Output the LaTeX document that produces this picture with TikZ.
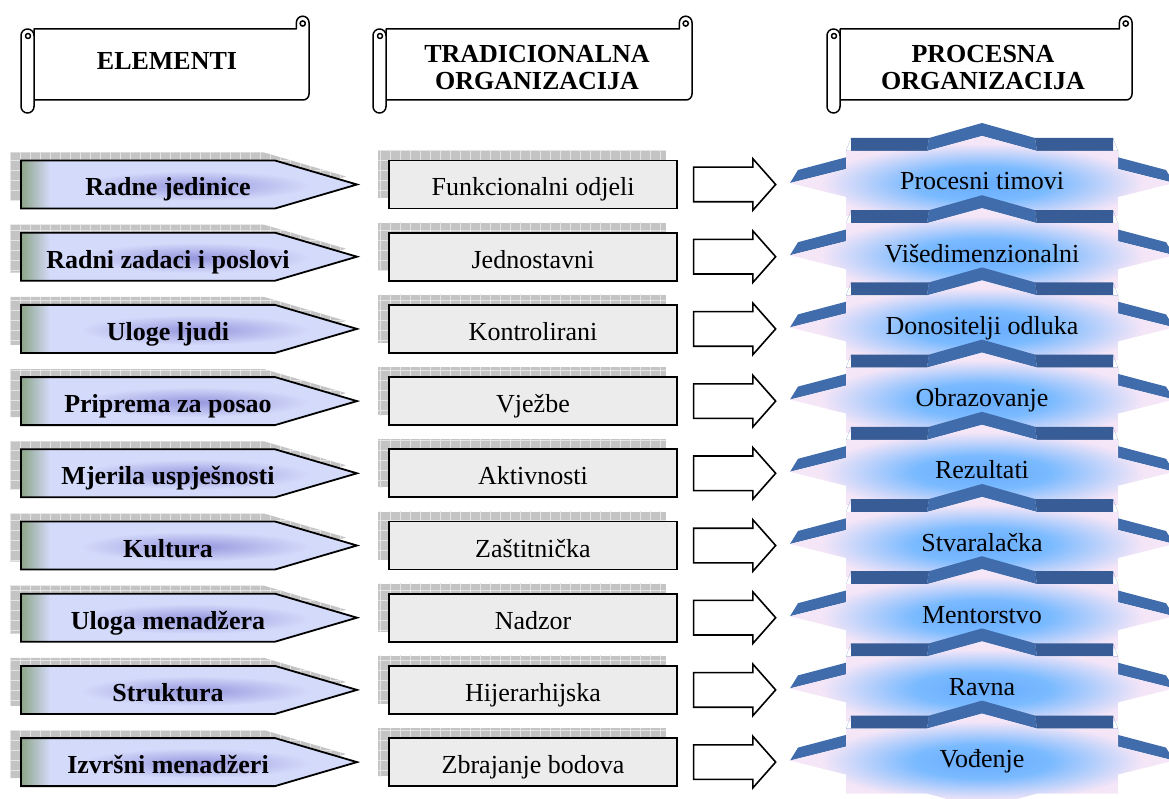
\documentclass[tikz,border=0pt]{standalone}
\usepackage{fontspec}
\setmainfont{Liberation Serif}
\usetikzlibrary{shapes.arrows}

\definecolor{gridgray}{RGB}{196,196,196}
\definecolor{gridlight}{RGB}{228,228,228}
\definecolor{elemlav}{RGB}{212,218,250}
\definecolor{elemgreen}{RGB}{140,165,135}
\definecolor{elemglow}{RGB}{150,150,222}
\definecolor{boxgray}{RGB}{236,236,236}
\definecolor{stardark}{RGB}{55,92,150}
\definecolor{starlight}{RGB}{64,108,172}

\pgfdeclareradialshading{starglow}{\pgfpoint{0bp}{0bp}}{rgb(0bp)=(0.40,0.67,1); rgb(9bp)=(0.48,0.73,1); rgb(21bp)=(0.96,0.90,0.97); rgb(50bp)=(0.97,0.92,0.98)}

\tikzset{
  scrollline/.style={line width=1.5pt, line join=round},
  headtext/.style={font=\fontsize{26}{27}\selectfont\bfseries, inner sep=0pt},
  elemline/.style={line width=1.8pt},
  elemtext/.style={font=\fontsize{26}{27}\selectfont\bfseries, anchor=base, inner sep=0pt},
  gridshadow/.style={draw=gridlight, line width=0.8pt, step=10pt},
  tradbox/.style={draw, line width=1.8pt, fill=boxgray, minimum width=288pt, minimum height=48pt,
    inner sep=0pt, text height=23pt, text depth=0pt, font=\fontsize{26}{27}\selectfont},
  blockarrow/.style={single arrow, draw, line width=1.6pt, fill=white, inner xsep=0pt, inner ysep=16.5pt,
    single arrow head extend=8.5pt, single arrow tip angle=97, minimum height=82pt, minimum width=50pt},
  proctext/.style={font=\fontsize{26}{27}\selectfont, anchor=base, inner sep=0pt}
}

% scroll banner: left edge, right edge
\newcommand{\scrollhead}[2]{%
  \draw[scrollline, fill=white] (#1+13,29) -- (#2-12.6,29) -- (#2-12.6,22.5)
    arc[start angle=180, end angle=360, radius=6.3] -- (#2,94)
    arc[start angle=0, end angle=90, radius=6] -- (#1+13,100) -- cycle;
  \draw[scrollline] (#2-6.3,23.5) circle (2.6); % right curl
  \draw[scrollline, fill=white] (#1,35.5) -- (#1,106.5) arc[start angle=180, end angle=0, radius=6.5]
    -- (#1+13,35.5) arc[start angle=0, end angle=-180, radius=6.5] -- cycle; % left roll
  \draw[scrollline] (#1+7,36) circle (2.5); % left curl
}

\begin{document}
\begin{tikzpicture}[x=1pt, y=-1pt]
  \useasboundingbox (0,0) rectangle (1169,799);
  \clip (0,0) rectangle (1169,799);

  % Headers
  \scrollhead{21}{309}
  \scrollhead{373}{692}
  \scrollhead{827}{1132}
  \node[headtext, anchor=base] (hel) at (167,70) {ELEMENTI};
  \node[headtext, anchor=north, align=center] (htr) at (537,45.5) {TRADICIONALNA\\ORGANIZACIJA};
  \node[headtext, anchor=north, align=center] (hpr) at (983,45.5) {PROCESNA\\ORGANIZACIJA};

  % Rows
  \foreach \elem/\trad/\proc [count=\i] in {
    Radne jedinice/Funkcionalni odjeli/Procesni timovi,
    Radni zadaci i poslovi/Jednostavni/Višedimenzionalni,
    Uloge ljudi/Kontrolirani/Donositelji odluka,
    Priprema za posao/Vježbe/Obrazovanje,
    Mjerila uspješnosti/Aktivnosti/Rezultati,
    Kultura/Zaštitnička/Stvaralačka,
    Uloga menadžera/Nadzor/Mentorstvo,
    Struktura/Hijerarhijska/Ravna,
    Izvršni menadžeri/Zbrajanje bodova/Vođenje} {
    \pgfmathsetmacro{\c}{184.5+72.2*(\i-1)}

    % element arrow with grid shadow
    \fill[gridgray] (10,\c-32) -- (264,\c-32) -- (346,\c-8) -- (264,\c+16) -- (10,\c+16) -- cycle;
    \begin{scope}
      \clip (10,\c-32) -- (264,\c-32) -- (346,\c-8) -- (264,\c+16) -- (10,\c+16) -- cycle;
      \draw[gridshadow] (0,\c+20) grid (350,\c-40);
    \end{scope}
    \fill[elemlav] (21,\c-24) -- (275,\c-24) -- (357,\c) -- (275,\c+24) -- (21,\c+24) -- cycle;
    \shade[left color=elemgreen, right color=elemlav] (21,\c-24) rectangle (50,\c+24);
    \shade[inner color=elemglow, outer color=elemlav] (195,\c+1) ellipse [x radius=115, y radius=15];
    \draw[elemline] (21,\c-24) -- (275,\c-24) -- (357,\c) -- (275,\c+24) -- (21,\c+24) -- cycle;
    \node[elemtext] (el\i) at (168,\c+11.5) {\elem};

    % traditional box with grid shadow
    \fill[gridgray] (378,\c-34) rectangle (666,\c+14);
    \begin{scope}
      \clip (378,\c-34) rectangle (666,\c+14);
      \draw[gridshadow] (370,\c+20) grid (670,\c-40);
    \end{scope}
    \node[tradbox] (tr\i) at (533,\c) {\trad};
    \node[blockarrow] (ar\i) at (727,\c) {};

    % process star
    \begin{scope}[shift={(982,\c-1.5)}]
      \fill[starlight] (-192,0) -- (-136,-14) -- (-131,-27) -- (-184,-13) -- cycle
        (-55,-32) -- (0,-47) -- (0,-60) -- (-53,-45) -- cycle
        (0,-47) -- (55,-32) -- (53,-45) -- (0,-60) -- cycle
        (136,-14) -- (192,0) -- (184,-13) -- (131,-27) -- cycle;
      \fill[stardark] (-136,-14) -- (-136,-32) -- (-131,-45) -- (-131,-27) -- cycle
        (-136,-32) -- (-55,-32) -- (-53,-45) -- (-131,-45) -- cycle
        (55,-32) -- (136,-32) -- (131,-45) -- (53,-45) -- cycle
        (136,-32) -- (136,-14) -- (131,-27) -- (131,-45) -- cycle;
      \shade[shading=starglow] (-192,0) -- (-136,-14) -- (-136,-32) -- (-55,-32) -- (0,-47) -- (55,-32)
        -- (136,-32) -- (136,-14) -- (192,0) -- (136,14) -- (136,33) -- (55,33) -- (0,48)
        -- (-55,33) -- (-136,33) -- (-136,14) -- cycle;
      \node[proctext] (pr\i) at (0,7) {\proc};
    \end{scope}
  }
\end{tikzpicture}
\end{document}
